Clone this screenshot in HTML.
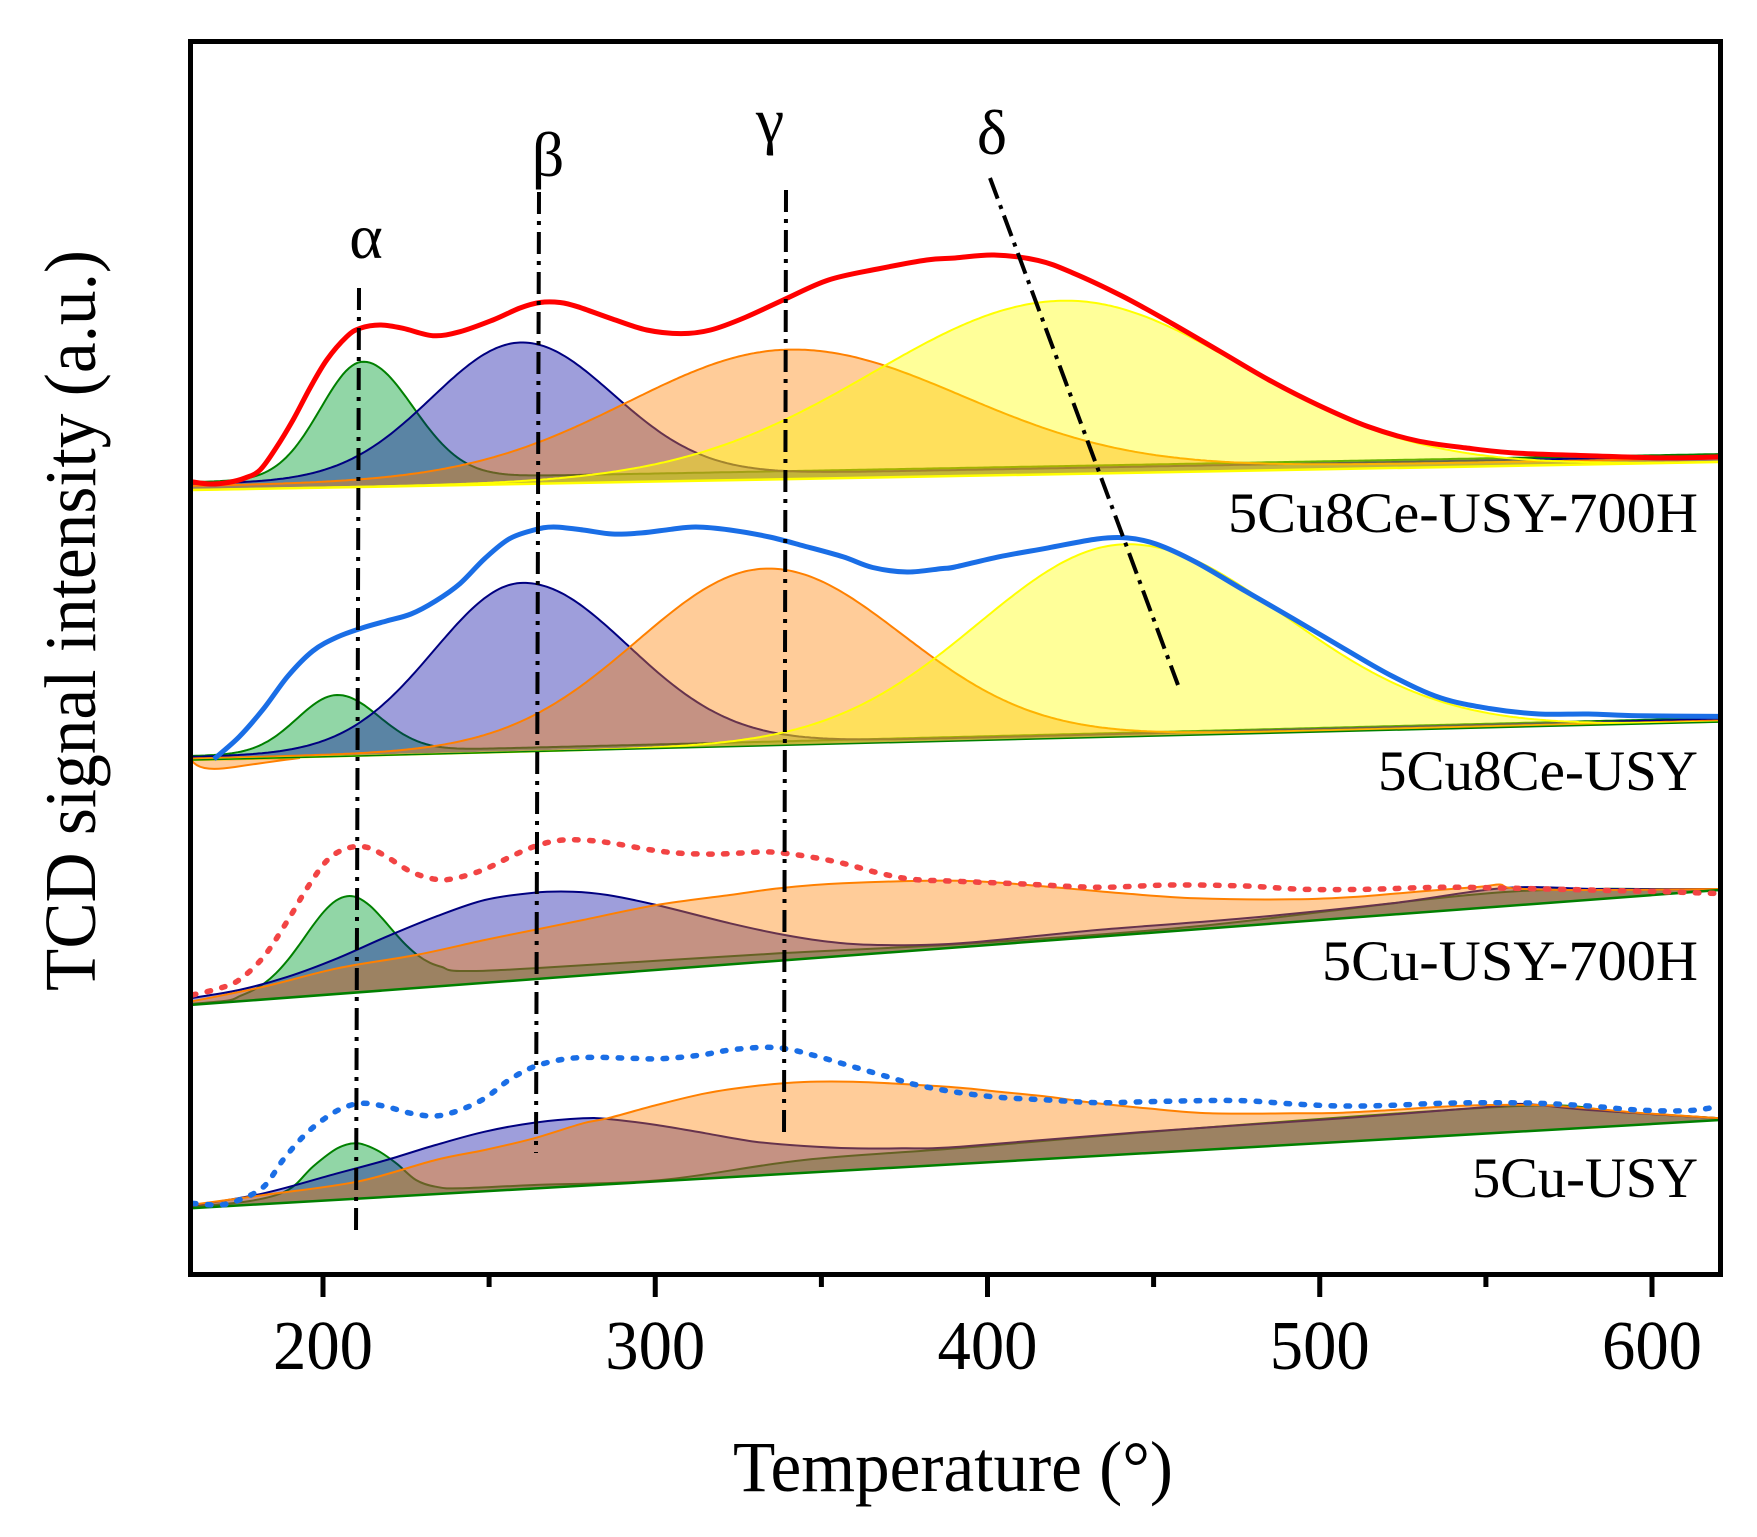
<!DOCTYPE html>
<html>
<head>
<meta charset="utf-8">
<style>
html,body{margin:0;padding:0;background:#fff;}
svg{display:block}
text{font-family:"Liberation Serif","DejaVu Serif",serif;fill:#000}
</style>
</head>
<body>
<svg id="s" xmlns="http://www.w3.org/2000/svg" width="1757" height="1537" viewBox="0 0 1757 1537">
<defs>
<clipPath id="cp"><rect x="193" y="44" width="1525" height="1228"/></clipPath>
</defs>
<rect width="1757" height="1537" fill="#fff"/>
<g id="data" clip-path="url(#cp)"></g>
<g id="top" clip-path="url(#cp)"></g>

<!-- dash-dot guide lines -->
<g stroke="#000" stroke-width="4" stroke-dasharray="22 7 4 7" fill="none">
<line x1="359" y1="288" x2="356" y2="1234"/>
<line x1="539" y1="192" x2="536" y2="1153"/>
<line x1="786" y1="190" x2="784" y2="1137"/>
<line x1="990" y1="178" x2="1178" y2="685"/>
</g>

<!-- frame -->
<rect x="190.5" y="41.5" width="1530" height="1233" fill="none" stroke="#000" stroke-width="5"/>
<!-- ticks -->
<path d="M323,1277V1297 M655.25,1277V1297 M987.5,1277V1297 M1319.75,1277V1297 M1652,1277V1297" stroke="#000" stroke-width="5"/>
<path d="M489.1,1277V1287 M821.4,1277V1287 M1153.6,1277V1287 M1485.9,1277V1287" stroke="#000" stroke-width="5"/>

<!-- tick labels -->
<g font-size="70" text-anchor="middle">
<text x="323" y="1369" textLength="100" lengthAdjust="spacingAndGlyphs">200</text>
<text x="655.25" y="1369" textLength="100" lengthAdjust="spacingAndGlyphs">300</text>
<text x="987.5" y="1369" textLength="100" lengthAdjust="spacingAndGlyphs">400</text>
<text x="1319.75" y="1369" textLength="100" lengthAdjust="spacingAndGlyphs">500</text>
<text x="1652" y="1369" textLength="100" lengthAdjust="spacingAndGlyphs">600</text>
</g>

<!-- axis titles -->
<text x="953" y="1491" font-size="72" text-anchor="middle" textLength="440" lengthAdjust="spacingAndGlyphs">Temperature (°)</text>
<text transform="translate(95,620.5) rotate(-90)" x="0" y="0" font-size="73" text-anchor="middle" textLength="741" lengthAdjust="spacingAndGlyphs">TCD signal intensity (a.u.)</text>

<!-- sample labels -->
<g font-size="57" text-anchor="end">
<text x="1698" y="532" textLength="470" lengthAdjust="spacingAndGlyphs">5Cu8Ce-USY-700H</text>
<text x="1698" y="790" textLength="320" lengthAdjust="spacingAndGlyphs">5Cu8Ce-USY</text>
<text x="1698" y="980" textLength="376" lengthAdjust="spacingAndGlyphs">5Cu-USY-700H</text>
<text x="1698" y="1197" textLength="226" lengthAdjust="spacingAndGlyphs">5Cu-USY</text>
</g>

<!-- greek labels -->
<g font-size="64" text-anchor="middle">
<text x="366" y="258">α</text>
<text x="548" y="176">β</text>
<text x="770" y="142">γ</text>
<text x="992" y="154">δ</text>
</g>
</svg>

<script>
(function(){
const NS='http://www.w3.org/2000/svg';
const g=document.getElementById('data');
const gt=document.getElementById('top');
function el(par,t,a){const e=document.createElementNS(NS,t);for(const k in a)e.setAttribute(k,a[k]);par.appendChild(e);return e;}
function f(v){return v.toFixed(1);}
function smooth(p){
  let d='M'+f(p[0][0])+','+f(p[0][1]);
  for(let i=0;i<p.length-1;i++){
    const p0=p[i-1]||p[i],p1=p[i],p2=p[i+1],p3=p[i+2]||p2;
    const c1x=p1[0]+(p2[0]-p0[0])/6,c1y=p1[1]+(p2[1]-p0[1])/6;
    const c2x=p2[0]-(p3[0]-p1[0])/6,c2y=p2[1]-(p3[1]-p1[1])/6;
    d+=' C'+f(c1x)+','+f(c1y)+' '+f(c2x)+','+f(c2y)+' '+f(p2[0])+','+f(p2[1]);
  }
  return d;
}
const GREEN={l:'#008000',f:'#00a030',o:0.43};
const NAVY={l:'#000080',f:'#0000a0',o:0.38};
const ORANGE={l:'#ff8000',f:'#ff8000',o:0.4};
const YELLOW={l:'#ffff00',f:'#ffff00',o:0.4};

function gpanel(B,peaks){
  peaks.forEach(pk=>{
    const h=B(pk.c)-pk.off-pk.top;
    const top=[];
    for(let x=190;x<=1721;x+=3){
      const s=x<pk.c?pk.sL:pk.sR;const d=x-pk.c;
      top.push([x,B(x)-pk.off-h*Math.exp(-d*d/(2*s*s))]);
    }
    const line='M'+top.map(p=>f(p[0])+','+f(p[1])).join(' L');
    el(g,'path',{d:line+' L1721,'+f(B(1721))+' L190,'+f(B(190))+' Z',fill:pk.col.f,'fill-opacity':pk.col.o,stroke:'none'});
    el(g,'path',{d:line,fill:'none',stroke:pk.col.l,'stroke-width':2});
  });
}
function tpanel(B,list){
  list.forEach(it=>{
    const d=smooth(it.pts);
    const last=it.pts[it.pts.length-1],first=it.pts[0];
    el(g,'path',{d:d+' L'+last[0]+','+f(B(last[0]))+' L'+first[0]+','+f(B(first[0]))+' Z',fill:it.col.f,'fill-opacity':it.col.o,stroke:'none'});
    el(g,'path',{d:d,fill:'none',stroke:it.col.l,'stroke-width':2});
  });
}

/* Panel 1: 5Cu8Ce-USY-700H */
const B1=x=>490-0.0183*(x-193);
gpanel(B1,[
 {col:GREEN,c:363,top:361.7,sL:42.5,sR:50,off:8},
 {col:NAVY,c:521,top:342.5,sL:89,sR:92,off:6},
 {col:ORANGE,c:789,top:349.6,sL:161,sR:173,off:4},
 {col:YELLOW,c:1063,top:300.7,sL:190,sR:179,off:0}
]);
el(g,'line',{x1:190,y1:f(B1(190)),x2:1721,y2:f(B1(1721)),stroke:'#ffff00','stroke-width':2.5});

/* Panel 2: 5Cu8Ce-USY */
const B2=x=>760-0.0249*(x-193);
el(g,'path',{d:'M193,762 C200,770 215,770 235,767 C255,764 275,761 300,758 L193,760 Z',fill:'#ff8000','fill-opacity':0.4,stroke:'#ff8000','stroke-width':2});
gpanel(B2,[
 {col:GREEN,c:337,top:695,sL:40,sR:42,off:4},
 {col:NAVY,c:522,top:582.9,sL:88,sR:106,off:3},
 {col:ORANGE,c:766,top:568.6,sL:129,sR:136,off:1.5},
 {col:YELLOW,c:1125,top:544.3,sL:147,sR:160,off:0}
]);
el(g,'line',{x1:190,y1:f(B2(190)),x2:1721,y2:f(B2(1721)),stroke:'#008000','stroke-width':1.5});

/* Panel 3: 5Cu-USY-700H */
const B3=x=>1005-0.0752*(x-190);
tpanel(B3,[
 {col:GREEN,pts:[[190,1004],[228,1000.5],[240,996],[252,990.8],[264,983.5],[276,973.2],[288,959.8],[300,943.8],[312,926.8],[324,911.5],[336,900.6],[347,896.2],[358,897.8],[370,905.8],[382,918.1],[394,932],[406,945],[418,955.5],[430,962.8],[442,967],[460,971],[534,968.3],[779,953.3],[960,944],[1200,926],[1505,892],[1720,890]]},
 {col:NAVY,pts:[[190,998.3],[239,990],[288,976.7],[337.4,958.3],[386.5,936.7],[435.6,916.7],[484.7,900],[534,892.7],[573,891.7],[607.5,895],[656.6,905],[730,923.3],[779.4,934],[828.5,941.7],[877.6,945],[960,943.3],[1097,930],[1244.7,918.3],[1392,903.3],[1505,888],[1600,889],[1720,889]]},
 {col:ORANGE,pts:[[190,1001.7],[263.7,986.7],[337.4,968.3],[416,955],[484.7,940],[534,930],[583,920],[656.6,905],[730,895],[779.4,888.3],[843,883.3],[960,880.7],[1048,886.7],[1122,893.3],[1195.6,898.3],[1293.8,899.3],[1357.7,896.7],[1416.6,891.7],[1480.4,886.7],[1500,884.5],[1515,888.5],[1588.5,890],[1720,889]]}
]);
el(g,'line',{x1:190,y1:f(B3(190)),x2:1721,y2:f(B3(1721)),stroke:'#008000','stroke-width':2.5});

/* Panel 4: 5Cu-USY */
const B4=x=>1208.3-0.0577*(x-190);
tpanel(B4,[
 {col:GREEN,pts:[[190,1207],[250,1201],[288,1190],[312.8,1166.7],[337.4,1148.3],[357,1143.3],[376.6,1150],[396.3,1163.3],[416,1180],[435.6,1186.7],[460,1188.3],[534,1185],[661.5,1180],[804,1160],[960,1148],[1200,1128],[1520,1106],[1620,1112],[1720,1118.3]]},
 {col:NAVY,pts:[[190,1206],[263.7,1193.3],[337.4,1173.3],[386.5,1160],[435.6,1145],[484.7,1131.7],[534,1122.7],[583,1118.3],[607.5,1119],[656.6,1125],[705.7,1133.3],[755,1141.7],[804,1146],[853,1148.3],[902,1148.3],[960,1146.7],[1146.5,1131.7],[1343,1118.3],[1490,1106.7],[1525,1104],[1588.5,1110],[1720,1118.3]]},
 {col:ORANGE,pts:[[190,1205],[263.7,1195],[357,1181.7],[435.6,1160],[484.7,1150],[534,1138.3],[583,1123.3],[607.5,1118.3],[656.6,1105],[705.7,1093.3],[755,1086],[804,1082],[853,1081.7],[902,1084],[960,1087.7],[999,1091.7],[1048,1096.7],[1097,1103.3],[1146.5,1108.3],[1210,1113.3],[1293.8,1113.3],[1343,1112.7],[1392,1110],[1441,1106.7],[1490,1105],[1539,1105],[1588.5,1108.3],[1637.6,1112.7],[1686.8,1116],[1720,1118.3]]}
]);
el(g,'line',{x1:190,y1:f(B4(190)),x2:1721,y2:f(B4(1721)),stroke:'#008000','stroke-width':2.5});

/* Envelope lines */
const red1=[[192.5,482],[210,484],[228,482.5],[245,478],[260,470],[276,448],[293,420],[310,388],[326.7,360],[346.7,336.7],[360,328.3],[380,325],[403,328.3],[433,335.7],[460,331.7],[493,320],[520,308],[540,302.5],[560,302.5],[578,306.8],[612.4,319],[646.8,330],[681,333.6],[710.6,330],[745,317.5],[784,299.6],[828.5,280],[877.6,269],[926.7,260],[955,258],[994,255],[1038,260.4],[1072.8,272.9],[1122,296],[1171,322.9],[1220,351.4],[1269,380],[1318,405],[1367.5,426.4],[1416.6,440.7],[1465.7,447.9],[1514.8,453],[1588.5,455.7],[1662,457.9],[1720,456.8]];
el(gt,'path',{d:smooth(red1),fill:'none',stroke:'#ff0000','stroke-width':5,'stroke-linejoin':'round'});

const blue2=[[214,759],[239,737],[263.7,708.6],[288,676],[312.8,651],[337.4,637],[362,628],[386.5,621],[411,614],[435.6,601],[460,583.6],[484.7,558.6],[509,539],[534,530],[553.5,527],[583,530],[612.4,534],[642,532.9],[671,529.3],[696,527],[730,530],[769.6,537],[804,546],[843,556.8],[872.7,567.5],[907,572],[941.5,568.6],[955,567],[999,556.8],[1048,547.9],[1097,539],[1127,537.9],[1156,544],[1195.6,562],[1244.7,590.7],[1293.8,619],[1343,648],[1392,676],[1441,698],[1490,708.6],[1539,714],[1588.5,714],[1637.6,715.7],[1720,716.4]];
el(gt,'path',{d:smooth(blue2),fill:'none',stroke:'#1a6ee6','stroke-width':5,'stroke-linejoin':'round'});

const red3=[[192.5,995],[219.5,988.3],[239,980],[263.7,956.7],[288,920],[308,886.7],[327.5,860],[347,848.3],[366.8,847.3],[386.5,856.7],[411,871.7],[435.6,879.3],[455,878.3],[484.7,869.3],[514,855],[538.7,845],[563,840],[592.7,840.7],[617,844],[651.7,850],[681,853.3],[720.5,854],[759.7,852],[779.4,852.7],[809,856.7],[843,863.3],[877.6,872.7],[912,879.3],[955,881.2],[1023.7,884],[1097,887.3],[1171,885],[1244.7,886],[1303.6,889.3],[1367.5,889.3],[1441,887.3],[1515,888.3],[1588.5,890],[1662,891.7],[1718,893.5]];
el(gt,'path',{d:smooth(red3),fill:'none',stroke:'#f24444','stroke-width':5.5,'stroke-dasharray':'3.5 11.5','stroke-linecap':'round'});

const blue4=[[192.5,1203.3],[219.5,1205],[239,1200],[263.7,1186.7],[283,1160],[303,1136.7],[322.6,1120],[342,1108.3],[362,1103.3],[386.5,1106.7],[411,1113.3],[435.6,1116],[460,1110],[484.7,1098.3],[509,1080],[534,1066.7],[563,1059.3],[592.7,1057.3],[632,1058.3],[661.5,1058.7],[701,1055],[730,1050],[764.7,1047.3],[789,1049.3],[818.7,1056.7],[853,1066.7],[887.5,1076.7],[917,1085],[955,1092],[999,1097.3],[1048,1100],[1097,1102.7],[1146.5,1101.7],[1195.6,1100.7],[1244.7,1100.7],[1293.8,1104],[1343,1106],[1392,1105.3],[1441,1103.3],[1490,1102.7],[1539,1103.3],[1588.5,1106],[1637.6,1110],[1686.8,1110.7],[1718,1106.7]];
el(gt,'path',{d:smooth(blue4),fill:'none',stroke:'#1a6ee6','stroke-width':5.5,'stroke-dasharray':'3.5 11.5','stroke-linecap':'round'});
})();
</script>
</body>
</html>
